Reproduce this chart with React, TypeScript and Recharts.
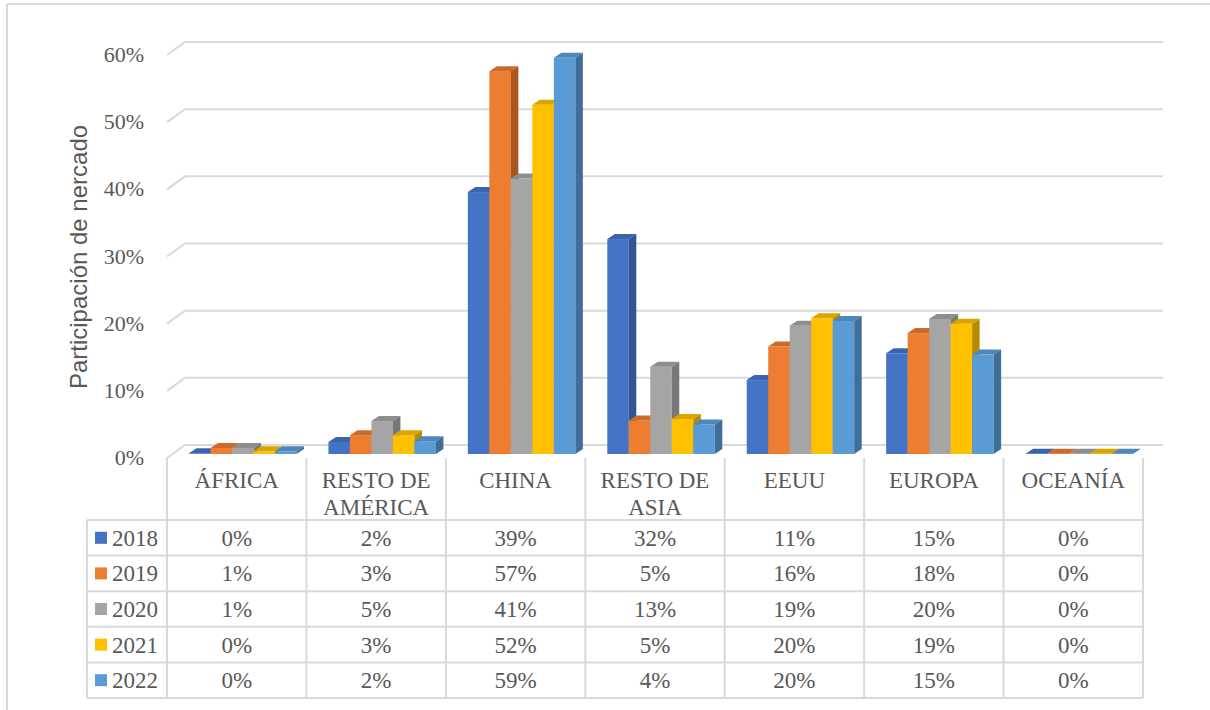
import React from "react";
import { BarChart, Bar, XAxis, YAxis, CartesianGrid } from "recharts";

// categories (with manual line breaks as in the data table header)
const categories = ["ÁFRICA", "RESTO DE\nAMÉRICA", "CHINA", "RESTO DE\nASIA", "EEUU", "EUROPA", "OCEANÍA"];
const years = ["2018", "2019", "2020", "2021", "2022"];

// market share, % (table shows them rounded)
const s2018 = [0.1, 1.8, 39, 32, 11, 15, 0.05];
const s2019 = [0.9, 2.8, 57, 5, 16, 18, 0.05];
const s2020 = [0.9, 4.9, 41, 13, 19.1, 20.1, 0.05];
const s2021 = [0.4, 2.8, 52, 5.2, 20.2, 19.4, 0.05];
const s2022 = [0.4, 1.9, 59, 4.4, 19.8, 14.8, 0.05];

const yTicks = [0, 10, 20, 30, 40, 50, 60];

const series = [s2018, s2019, s2020, s2021, s2022];
const frontColors = ["#4472C4", "#ED7D31", "#A5A5A5", "#FFC000", "#5B9BD5"];
const topColors = ["#3A64AE", "#CC6A29", "#8E8E8E", "#DBA500", "#4F87BA"];
const sideColors = ["#2F5597", "#A9561E", "#787878", "#B88A00", "#3F6E99"];

const data = categories.map((c, i) => {
  const row: Record<string, any> = { cat: c };
  years.forEach((y, j) => (row[y] = series[j][i]));
  return row;
});

// layout
const W = 1210;
const H = 710;
const PLOT_L = 167;
const PLOT_R = 1143;
const PLOT_T = 55;
const FLOOR = 458;
const HEAD_H = 62;
const ROW_H = 35.6;
const LEG_L = 87;
const Y_AXIS_W = 80;
const GRID = "#D9D9D9";
const TXT = "#595959";
const SERIF = "'Liberation Serif', 'Times New Roman', serif";
const serif = { fontFamily: SERIF };

const gridLine = (p: any) => {
  const { x1, y1, x2, index } = p;
  return (
    <polyline
      key={`g-${index}-${y1}`}
      points={`${x1},${y1} ${x1 + 18},${y1 - 13} ${x2 + 20},${y1 - 13}`}
      fill="none"
      stroke={GRID}
      strokeWidth={2}
    />
  );
};

const barShape = (k: number) => (p: any) => {
  const { x, y, width, height } = p;
  const fx = x + 6;
  const fy = y - 4;
  const d = 7.5;
  const dv = 5;
  const w = width;
  const h = Math.max(height, 0);
  return (
    <g>
      <rect x={fx} y={fy} width={w} height={h} fill={frontColors[k]} />
      <polygon
        points={`${fx},${fy} ${fx + d},${fy - dv} ${fx + w + d},${fy - dv} ${fx + w},${fy}`}
        fill={topColors[k]}
      />
      <polygon
        points={`${fx + w},${fy} ${fx + w + d},${fy - dv} ${fx + w + d},${fy + h - dv} ${fx + w},${fy + h}`}
        fill={sideColors[k]}
      />
    </g>
  );
};

const CatTick = (p: any) => {
  const { x, y, payload } = p;
  const lines = String(payload.value).split("\n");
  return (
    <text x={x} y={y} textAnchor="middle" fill={TXT} fontSize={23} style={serif}>
      {lines.map((l, i) => (
        <tspan key={i} x={x} y={y + 30 + i * 27}>
          {l}
        </tspan>
      ))}
    </text>
  );
};

const PctTick = (p: any) => {
  const { x, y, payload } = p;
  return (
    <text x={x} y={y} dy={7} textAnchor="end" fill={TXT} fontSize={22} style={serif}>
      {`${payload.value}%`}
    </text>
  );
};

function DataTable() {
  const colW = (PLOT_R - PLOT_L) / categories.length;
  const top = FLOOR + HEAD_H;
  const bottom = top + ROW_H * years.length;
  const edges = categories.map((_, i) => PLOT_L + i * colW).concat([PLOT_R]);
  return (
    <g>
      {edges.map((x, i) => (
        <line key={`v${i}`} x1={x} y1={FLOOR} x2={x} y2={bottom} stroke={GRID} strokeWidth={2} />
      ))}
      <line x1={LEG_L} y1={top} x2={LEG_L} y2={bottom} stroke={GRID} strokeWidth={2} />
      {years.map((_, r) => (
        <line key={`h${r}`} x1={LEG_L} y1={top + r * ROW_H} x2={PLOT_R} y2={top + r * ROW_H} stroke={GRID} strokeWidth={2} />
      ))}
      <line x1={LEG_L} y1={bottom} x2={PLOT_R} y2={bottom} stroke={GRID} strokeWidth={2} />
      {years.map((yr, r) => {
        const cy = top + r * ROW_H + ROW_H / 2;
        return (
          <g key={yr}>
            <rect x={95} y={cy - 6} width={12} height={12} fill={frontColors[r]} />
            <text x={112} y={cy + 8} fill={TXT} fontSize={23} style={serif}>
              {yr}
            </text>
            {series[r].map((v, i) => (
              <text
                key={i}
                x={PLOT_L + i * colW + colW / 2}
                y={cy + 8}
                textAnchor="middle"
                fill={TXT}
                fontSize={23}
                style={serif}
              >
                {Math.round(v)}%
              </text>
            ))}
          </g>
        );
      })}
    </g>
  );
}

export default function App() {
  return (
    <div style={{ position: "absolute", left: 0, top: 0, width: W, height: H, background: "#fff" }}>
      <BarChart
        width={W}
        height={H}
        data={data}
        barGap={0}
        barSize={21.5}
        margin={{ top: PLOT_T, right: W - PLOT_R, bottom: H - FLOOR - HEAD_H, left: PLOT_L - Y_AXIS_W }}
      >
        <CartesianGrid vertical={false} horizontal={gridLine} />
        <XAxis
          dataKey="cat"
          axisLine={false}
          tickLine={false}
          tickSize={0}
          tickMargin={0}
          height={HEAD_H}
          interval={0}
          tick={<CatTick />}
        />
        <YAxis
          domain={[0, 60]}
          ticks={yTicks}
          width={Y_AXIS_W}
          axisLine={false}
          tickLine={false}
          tickSize={0}
          tickMargin={23}
          tick={<PctTick />}
        />
        {years.map((y, k) => (
          <Bar key={y} dataKey={y} isAnimationActive={false} shape={barShape(k)} />
        ))}
      </BarChart>
      <svg width={W} height={H} style={{ position: "absolute", left: 0, top: 0, pointerEvents: "none" }}>
        <line x1={7} y1={4} x2={7} y2={H} stroke={GRID} strokeWidth={2} />
        <line x1={7} y1={4} x2={W} y2={4} stroke={GRID} strokeWidth={2} />
        <text
          x={78}
          y={257}
          transform="rotate(-90 78 257)"
          textAnchor="middle"
          dominantBaseline="central"
          fill={TXT}
          fontSize={24}
          style={{ fontFamily: "'Liberation Sans', Arial, sans-serif" }}
        >
          Participación de nercado
        </text>
        <DataTable />
      </svg>
    </div>
  );
}
